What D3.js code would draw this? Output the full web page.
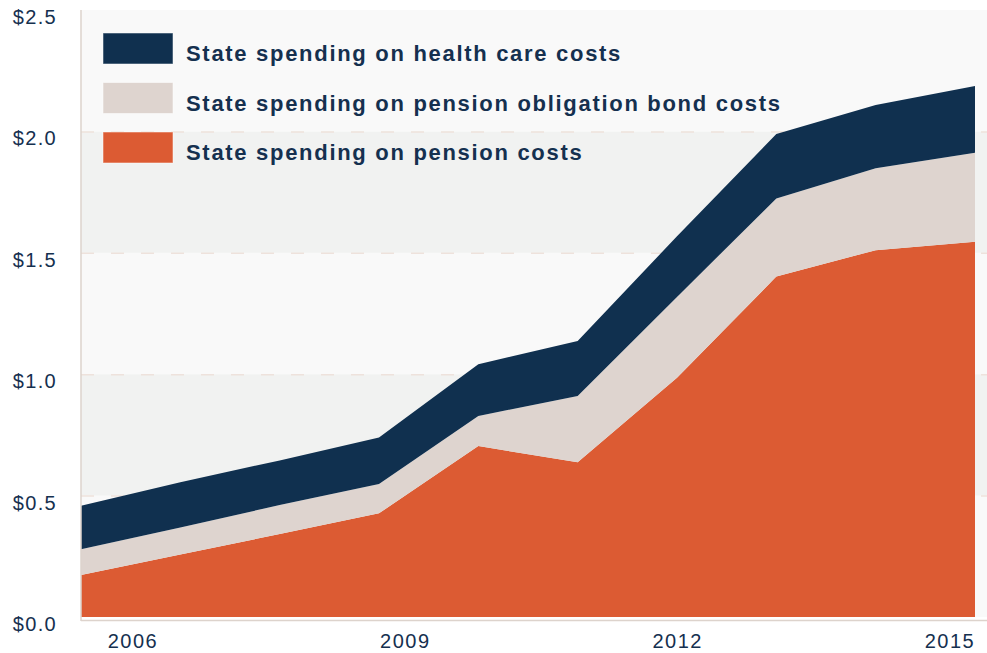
<!DOCTYPE html>
<html>
<head>
<meta charset="utf-8">
<script src="https://cdn.jsdelivr.net/npm/d3@7"></script>
<style>
  body { margin: 0; background: #fff; }
  svg { display: block; font-family: "Liberation Sans", Arial, sans-serif; }
</style>
</head>
<body>
<div id="chart"></div>
<script>
// values in $ billions
const years = [2006, 2007, 2008, 2009, 2010, 2011, 2012, 2013, 2014, 2015];
const pension = [0.173, 0.257, 0.342, 0.427, 0.704, 0.637, 0.985, 1.402, 1.511, 1.546];
const bond = [0.106, 0.112, 0.119, 0.121, 0.124, 0.273, 0.333, 0.322, 0.337, 0.366];
const health = [0.179, 0.186, 0.184, 0.191, 0.213, 0.227, 0.25, 0.265, 0.261, 0.275];

const yTicks = [0, 0.5, 1, 1.5, 2, 2.5];
const xTickYears = [2006, 2009, 2012, 2015];
const keys = ["pension", "bond", "health"];
const legendLabels = [
  "State spending on health care costs",
  "State spending on pension obligation bond costs",
  "State spending on pension costs"
];
const legendKeys = ["health", "bond", "pension"];

const colours = { pension: "#dc5b33", bond: "#ded4cf", health: "#10304f" };
const textColour = "#15304f";

const width = 987;
const height = 653;
const plotLeft = 81, plotRight = 975, bandRight = 987;
const plotTop = 10, plotBottom = 617;

const svg = d3.select("#chart").append("svg")
  .attr("width", width)
  .attr("height", height);

const table = years.map((yr, i) => ({
  year: yr, pension: pension[i], bond: bond[i], health: health[i]
}));

const x = d3.scalePoint().domain(years).range([plotLeft, plotRight]);
const y = d3.scaleLinear().domain([0, 2.5]).range([plotBottom, plotTop]);
// year labels sit on their own evenly spaced positions
const xLabel = d3.scaleLinear().domain([2006, 2015]).range([plotLeft + 52, plotRight - 25]);

// background bands
const bands = d3.pairs(yTicks);
svg.append("g").selectAll("rect")
  .data(bands)
  .enter()
  .append("rect")
  .attr("x", plotLeft)
  .attr("width", bandRight - plotLeft)
  .attr("y", (d) => y(d[1]))
  .attr("height", (d) => y(d[0]) - y(d[1]))
  .attr("fill", (d, i) => (i % 2 === 0 ? "#f9f9f9" : "#f1f2f1"));

// dashed grid lines
svg.append("g").selectAll("line")
  .data(yTicks.slice(1, -1))
  .enter()
  .append("line")
  .attr("x1", plotLeft)
  .attr("x2", bandRight)
  .attr("y1", (d) => y(d) + 0.5)
  .attr("y2", (d) => y(d) + 0.5)
  .attr("stroke", "#eee2dc")
  .attr("stroke-width", 1.5)
  .attr("stroke-dasharray", "13,17");

// stacked areas
const series = d3.stack().keys(keys)(table);
const area = d3.area()
  .x((d) => x(d.data.year))
  .y0((d) => y(d[0]))
  .y1((d) => y(d[1]));

svg.append("g").selectAll("path")
  .data(series)
  .enter()
  .append("path")
  .attr("d", area)
  .attr("fill", (d) => colours[d.key]);

// axis lines
svg.append("line")
  .attr("x1", plotLeft).attr("x2", plotLeft)
  .attr("y1", plotTop).attr("y2", plotBottom + 4)
  .attr("stroke", "#ddd3cc").attr("stroke-width", 1.5);
svg.append("line")
  .attr("x1", plotLeft).attr("x2", bandRight)
  .attr("y1", plotBottom + 3.5).attr("y2", plotBottom + 3.5)
  .attr("stroke", "#ddd3cc").attr("stroke-width", 1.5);

// y tick labels
svg.append("g").selectAll("text")
  .data(yTicks)
  .enter()
  .append("text")
  .attr("x", 57)
  .attr("y", (d) => y(d) + 14)
  .attr("text-anchor", "end")
  .attr("font-size", 20)
  .attr("letter-spacing", 1.3)
  .attr("fill", textColour)
  .text((d) => "$" + d3.format(".1f")(d));

// x tick labels
svg.append("g").selectAll("text")
  .data(xTickYears)
  .enter()
  .append("text")
  .attr("x", (d) => xLabel(d))
  .attr("y", 648)
  .attr("text-anchor", "middle")
  .attr("font-size", 20)
  .attr("letter-spacing", 1.5)
  .attr("fill", textColour)
  .text((d) => d);

// legend
const legend = svg.append("g").selectAll("g")
  .data(legendKeys)
  .enter()
  .append("g")
  .attr("transform", (d, i) => `translate(103, ${33 + i * 49.5})`);

legend.append("rect")
  .attr("width", 70)
  .attr("height", 31)
  .attr("fill", (d) => colours[d])
  .attr("stroke", "rgba(255,255,255,0.5)")
  .attr("stroke-width", 1);

legend.append("text")
  .attr("x", 83)
  .attr("y", 28)
  .attr("font-size", 22)
  .attr("font-weight", "bold")
  .attr("letter-spacing", 1.7)
  .attr("fill", textColour)
  .text((d, i) => legendLabels[i]);
</script>
</body>
</html>
